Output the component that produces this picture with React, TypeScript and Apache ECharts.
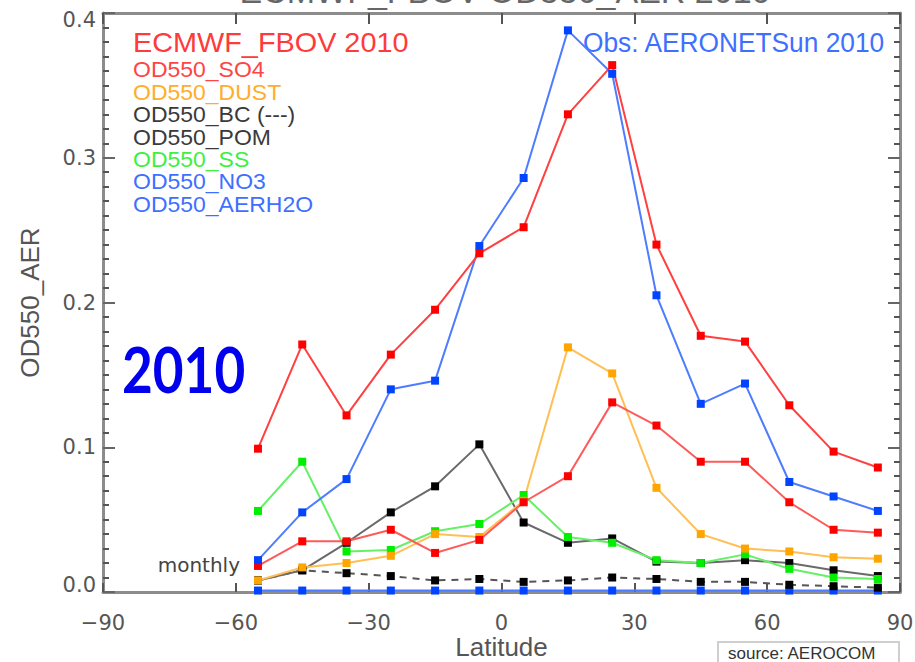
import React, { useEffect, useRef } from "react";
import * as echarts from "echarts";

// Latitude bands (centres, degrees)
const lats = [-55, -45, -35, -25, -15, -5, 5, 15, 25, 35, 45, 55, 65, 75, 85];
// Model total OD550_AER (ECMWF_FBOV 2010)
const totalAOD = [0.099, 0.171, 0.122, 0.164, 0.195, 0.234, 0.252, 0.330, 0.364, 0.240, 0.177, 0.173, 0.129, 0.097, 0.086];
// Observations AERONETSun 2010
const obsAOD = [0.022, 0.055, 0.078, 0.140, 0.146, 0.239, 0.286, 0.388, 0.358, 0.205, 0.130, 0.144, 0.076, 0.066, 0.056];
// Components
const so4 = [0.018, 0.035, 0.035, 0.043, 0.027, 0.036, 0.062, 0.080, 0.131, 0.115, 0.090, 0.090, 0.062, 0.043, 0.041];
const dust = [0.008, 0.017, 0.020, 0.025, 0.040, 0.038, 0.063, 0.169, 0.151, 0.072, 0.040, 0.030, 0.028, 0.024, 0.023];
const bc = [0.008, 0.015, 0.013, 0.011, 0.008, 0.009, 0.007, 0.008, 0.010, 0.009, 0.007, 0.007, 0.005, 0.004, 0.003];
const pom = [0.008, 0.015, 0.034, 0.055, 0.073, 0.102, 0.048, 0.034, 0.037, 0.021, 0.020, 0.022, 0.020, 0.015, 0.011];
const ss = [0.056, 0.090, 0.028, 0.029, 0.042, 0.047, 0.067, 0.038, 0.034, 0.022, 0.020, 0.026, 0.016, 0.010, 0.009];
const no3 = [0.001, 0.001, 0.001, 0.001, 0.001, 0.001, 0.001, 0.001, 0.001, 0.001, 0.001, 0.001, 0.001, 0.001, 0.001];

const legendItems = [
  { text: "OD550_SO4", color: "#ff4444" },
  { text: "OD550_DUST", color: "#ffad2a" },
  { text: "OD550_BC (---)", color: "#3a3a3a" },
  { text: "OD550_POM", color: "#3a3a3a" },
  { text: "OD550_SS", color: "#3ef03e" },
  { text: "OD550_NO3", color: "#3f6fff" },
  { text: "OD550_AERH2O", color: "#3f6fff" },
];

const pairs = (vals: number[]) => lats.map((x, i) => [x, vals[i]]);

const mkSeries = (
  name: string,
  vals: number[],
  lineColor: string,
  markColor: string,
  dashed = false
) => ({
  name,
  type: "line",
  data: pairs(vals),
  symbol: "rect",
  symbolSize: 8,
  showSymbol: true,
  itemStyle: { color: markColor },
  lineStyle: { color: lineColor, width: 2, type: dashed ? [7, 6] : "solid" },
  emphasis: { disabled: true },
});

export default function App() {
  const ref = useRef<HTMLDivElement>(null);
  useEffect(() => {
    if (!ref.current) return;
    const chart = echarts.init(ref.current, undefined, { renderer: "svg" });
    const axisLine = { show: true, onZero: false, lineStyle: { color: "#8c8c8c", width: 3 } };
    const tickFont = { fontFamily: "DejaVu Sans", fontSize: 21, color: "#555" };
    const legendGraphics: any[] = legendItems.map((it, i) => ({
      type: "text",
      x: 133,
      y: 69.5 + i * 22.4,
      scaleX: 1.15,
      scaleY: 1.12,
      style: {
        text: it.text,
        fill: it.color,
        fontFamily: "Liberation Sans",
        fontSize: 20,
        align: "left",
        verticalAlign: "middle",
      },
    }));
    chart.setOption({
      animation: false,
      backgroundColor: "#fff",
      grid: {
        left: 103,
        top: 13,
        width: 797,
        height: 579,
        containLabel: false,
        outerBoundsMode: "none",
      },
      xAxis: [
        {
          type: "value",
          min: -90,
          max: 90,
          interval: 30,
          position: "bottom",
          name: "Latitude",
          nameLocation: "middle",
          nameGap: 42,
          nameMoveOverlap: false,
          nameTextStyle: { fontFamily: "Liberation Sans", fontSize: 26, color: "#555" },
          axisLine,
          axisTick: { show: true, inside: true, length: 9, lineStyle: { color: "#555", width: 2 } },
          axisLabel: {
            ...tickFont,
            margin: 20,
            formatter: (v: number) => (v < 0 ? "\u2212" + Math.abs(v) : String(v)),
          },
          splitLine: { show: false },
        },
        {
          type: "value",
          min: -90,
          max: 90,
          interval: 30,
          position: "top",
          axisLine,
          axisTick: { show: true, inside: true, length: 11, lineStyle: { color: "#555", width: 2 } },
          axisLabel: { show: false },
          splitLine: { show: false },
        },
      ],
      yAxis: [
        {
          type: "value",
          min: 0,
          max: 0.4,
          interval: 0.1,
          position: "left",
          name: "OD550_AER",
          nameLocation: "middle",
          nameRotate: 90,
          nameGap: 60,
          nameMoveOverlap: false,
          nameTextStyle: { fontFamily: "Liberation Sans", fontSize: 26, color: "#555" },
          axisLine,
          axisTick: { show: true, inside: true, length: 12, lineStyle: { color: "#666", width: 2 } },
          minorTick: { show: true, splitNumber: 10, length: 6, lineStyle: { color: "#555", width: 2 } },
          axisLabel: {
            ...tickFont,
            lineHeight: 14,
            margin: 7,
            formatter: (v: number) => v.toFixed(1),
            verticalAlignMinLabel: "bottom",
            verticalAlignMaxLabel: "top",
          },
          splitLine: { show: false },
          minorSplitLine: { show: false },
        },
        {
          type: "value",
          min: 0,
          max: 0.4,
          interval: 0.1,
          position: "right",
          axisLine,
          axisTick: { show: true, inside: true, length: 12, lineStyle: { color: "#666", width: 2 } },
          minorTick: { show: true, splitNumber: 10, length: 6, lineStyle: { color: "#555", width: 2 } },
          axisLabel: { show: false },
          splitLine: { show: false },
          minorSplitLine: { show: false },
        },
      ],
      series: [
        mkSeries("OD550_NO3", no3, "#4d7cff", "#0044ff"),
        mkSeries("OD550_BC", bc, "#555555", "#000000", true),
        mkSeries("OD550_POM", pom, "#6a6a6a", "#000000"),
        mkSeries("OD550_SS", ss, "#66f066", "#00ee00"),
        mkSeries("OD550_DUST", dust, "#ffbf55", "#ffa500"),
        mkSeries("OD550_SO4", so4, "#ff5a5a", "#ff0000"),
        mkSeries("Obs: AERONETSun 2010", obsAOD, "#4d7cff", "#0044ff"),
        mkSeries("ECMWF_FBOV 2010", totalAOD, "#ff4040", "#ff0000"),
      ],
      graphic: [
        {
          type: "text",
          x: 505,
          y: 8,
          style: {
            text: "ECMWF_FBOV OD550_AER 2010",
            fill: "#666",
            fontFamily: "Liberation Sans",
            fontSize: 34,
            align: "center",
            verticalAlign: "bottom",
          },
        },
        {
          type: "text",
          x: 133,
          y: 42,
          scaleX: 1.03,
          style: {
            text: "ECMWF_FBOV 2010",
            fill: "#ff3a3a",
            fontFamily: "Liberation Sans",
            fontSize: 28,
            align: "left",
            verticalAlign: "middle",
          },
        },
        {
          type: "text",
          x: 583,
          y: 42,
          scaleX: 0.94,
          style: {
            text: "Obs: AERONETSun 2010",
            fill: "#3f6fff",
            fontFamily: "Liberation Sans",
            fontSize: 28,
            align: "left",
            verticalAlign: "middle",
          },
        },
        ...legendGraphics,
        {
          type: "text",
          x: 122,
          y: 369,
          scaleX: 0.83,
          style: {
            text: "2010",
            fill: "#0000ee",
            fontFamily: "Lato",
            fontWeight: "bold",
            fontSize: 64,
            align: "left",
            verticalAlign: "middle",
          },
        },
        {
          type: "text",
          x: 240,
          y: 565,
          style: {
            text: "monthly",
            fill: "#444",
            fontFamily: "DejaVu Sans",
            fontSize: 20,
            align: "right",
            verticalAlign: "middle",
          },
        },
        {
          type: "rect",
          shape: { x: 718, y: 642, width: 181, height: 40 },
          style: { fill: "#fff", stroke: "#cfcfcf", lineWidth: 2 },
        },
        {
          type: "text",
          x: 728,
          y: 653,
          style: {
            text: "source: AEROCOM",
            fill: "#333",
            fontFamily: "Liberation Sans",
            fontSize: 17,
            align: "left",
            verticalAlign: "middle",
          },
        },
      ],
    });
    return () => chart.dispose();
  }, []);
  return (
    <div
      ref={ref}
      style={{ position: "fixed", left: 0, top: 0, width: 915, height: 662, background: "#fff" }}
    />
  );
}
